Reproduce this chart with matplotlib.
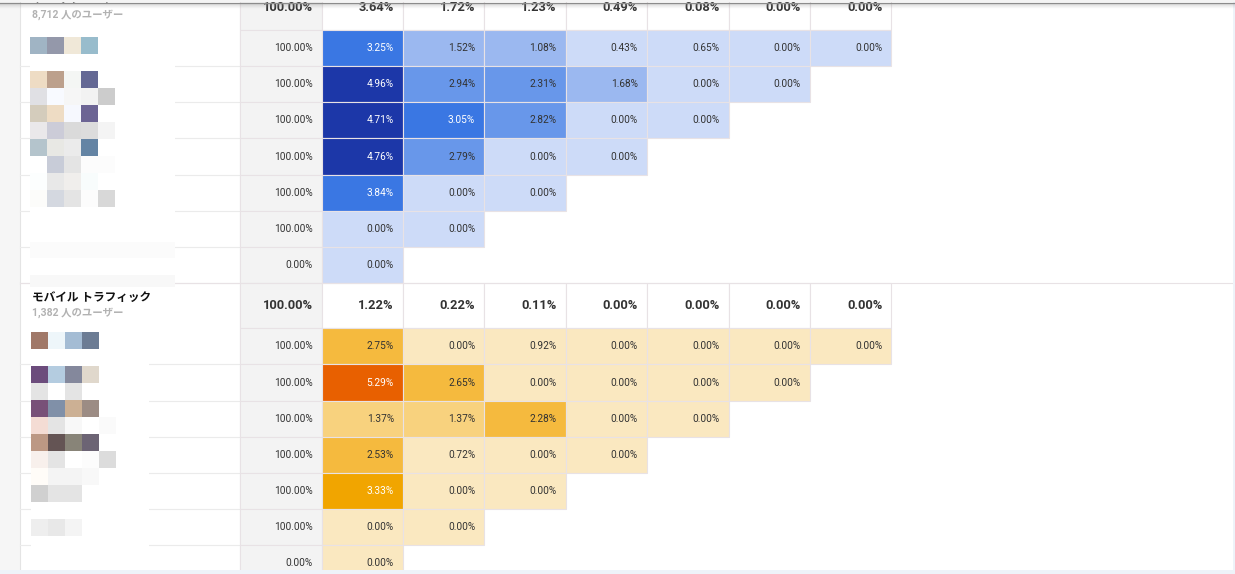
import numpy as np
import matplotlib
matplotlib.use('Agg')
import matplotlib.pyplot as plt
from matplotlib.colors import ListedColormap, BoundaryNorm, to_rgb
from matplotlib.patches import Rectangle

plt.rcParams['font.family'] = ['Roboto', 'Noto Sans CJK JP', 'DejaVu Sans']

# --- data ---
all_title = 'すべてのユーザー'
all_users = '8,712 人のユーザー'
all_totals = [100.00, 3.64, 1.72, 1.23, 0.49, 0.08, 0.00, 0.00]
all_rows = [
    [100.00, 3.25, 1.52, 1.08, 0.43, 0.65, 0.00, 0.00],
    [100.00, 4.96, 2.94, 2.31, 1.68, 0.00, 0.00],
    [100.00, 4.71, 3.05, 2.82, 0.00, 0.00],
    [100.00, 4.76, 2.79, 0.00, 0.00],
    [100.00, 3.84, 0.00, 0.00],
    [100.00, 0.00, 0.00],
    [0.00, 0.00],
]

mobile_title = 'モバイル トラフィック'
mobile_users = '1,382 人のユーザー'
mobile_totals = [100.00, 1.22, 0.22, 0.11, 0.00, 0.00, 0.00, 0.00]
mobile_rows = [
    [100.00, 2.75, 0.00, 0.92, 0.00, 0.00, 0.00, 0.00],
    [100.00, 5.29, 2.65, 0.00, 0.00, 0.00, 0.00],
    [100.00, 1.37, 1.37, 2.28, 0.00, 0.00],
    [100.00, 2.53, 0.72, 0.00, 0.00],
    [100.00, 3.33, 0.00, 0.00],
    [100.00, 0.00, 0.00],
    [0.00, 0.00],
]

bin_edges = [0, 1, 2, 3, 4, 1000]
blue_colors = ['#cddbf8', '#9bb8f0', '#6897ea', '#3a77e3', '#1c37a8']
orange_colors = ['#fae8c0', '#f8d27e', '#f5ba3e', '#f1a500', '#e86000']

# pixelated date labels (kept blurred as in the screenshot)
all_mosaic = [
    ['a0b4c4', '9498aa', 'f0e8d8', '98bccc', 'ffffff'],
    ['ffffff', 'ffffff', 'ffffff', 'ffffff', 'ffffff'],
    ['eedcc4', 'bca08c', 'f4f6f4', '646894', 'ffffff'],
    ['e0e0e4', 'f8faff', 'f6f6f6', 'f2f2f2', 'cccccc'],
    ['d4ccbc', 'eedcc4', 'f6f8fe', '6c6494', 'ffffff'],
    ['eae8ea', 'ccccd8', 'dadada', 'dcdcdc', 'f4f4f4'],
    ['b4c4cc', 'e8e8e4', 'ebebeb', '6484a4', 'ffffff'],
    ['ffffff', 'c8ccd8', 'e4e4e4', 'fcfcfc', 'fcfcfc'],
    ['fcfefe', 'e8e8e8', 'f0eeec', 'f8fcfc', 'ffffff'],
    ['fcfcfa', 'd4d8e0', 'e4e4e4', 'fcfcfc', 'd8d8d8'],
]
mobile_mosaic = [
    ['a07868', 'eef6fa', 'a4bcd4', '6c7c94', 'ffffff'],
    ['ffffff', 'ffffff', 'ffffff', 'ffffff', 'ffffff'],
    ['6c4c7c', 'b4cce0', '84889c', 'e0d8cc', 'ffffff'],
    ['e4e4e4', 'ffffff', 'e4e4e4', 'ffffff', 'ffffff'],
    ['785078', '8090a8', 'ccb094', '9c8c84', 'ffffff'],
    ['f4dcd4', 'e4e4e4', 'f8f8f8', 'ffffff', 'fafafa'],
    ['bc9884', '645454', '888478', '6c6474', 'ffffff'],
    ['f8f0ec', 'e4e4e4', 'ffffff', 'fcfcfc', 'dcdcdc'],
    ['fffcf8', 'f4f4f4', 'f4f4f4', 'f8f8f8', 'ffffff'],
    ['d0d0d0', 'e4e4e4', 'e4e4e4', 'ffffff', 'ffffff'],
    ['ffffff', 'ffffff', 'ffffff', 'ffffff', 'ffffff'],
    ['eeeeee', 'e8e8e8', 'f4f4f4', 'ffffff', 'ffffff'],
]

# --- layout (pixels) ---
W, H = 1235, 574
LABEL_X0 = 20
DAY0_X0 = 239.5
COL1_X0 = 321.5
COL_W = 81.4
HEAD_H = 45.3
ROW_H = 36.15
BORDER = '#e8e2e5'
GREY_CELL = '#f3f3f3'
TEXT = '#333333'
PAD = 9


def col_x(j):
    if j == 0:
        return DAY0_X0, COL1_X0 - DAY0_X0
    return COL1_X0 + (j - 1) * COL_W, COL_W


def draw_mosaic(ax, rows, x0, y0, box, block=17):
    ax.add_patch(Rectangle((box[0], box[1]), box[2] - box[0], box[3] - box[1],
                           facecolor='white', edgecolor='none', zorder=3))
    img = np.array([[to_rgb('#' + c) for c in r] for r in rows])
    ax.imshow(img, extent=(x0, x0 + block * len(rows[0]), y0 + block * len(rows), y0),
              interpolation='nearest', aspect='auto', zorder=4)


def draw_group(ax, top, title, users, totals, rows, cmap, norm):
    # label column
    ax.text(32, top + 14.5, title, fontsize=8.4, fontweight='bold', color='#111111',
            ha='left', va='center', zorder=6)
    ax.text(32, top + 29.5, users, fontsize=7.5, fontweight='bold', color='#b2b2b2',
            ha='left', va='center', zorder=6)

    # header row
    for j, v in enumerate(totals):
        x, w = col_x(j)
        face = GREY_CELL if j == 0 else 'white'
        ax.add_patch(Rectangle((x, top), w, HEAD_H, facecolor=face, edgecolor=BORDER,
                               linewidth=0.8, zorder=1))
        ax.text(x + w - PAD, top + HEAD_H / 2, f'{v:.2f}%', fontsize=9.3, fontweight='bold',
                color=TEXT, ha='right', va='center', zorder=2)

    # body rows
    y = top + HEAD_H
    for row in rows:
        ax.plot([LABEL_X0, DAY0_X0], [y + ROW_H, y + ROW_H], color='#ebebeb', lw=0.8, zorder=1)
        for j, v in enumerate(row):
            x, w = col_x(j)
            if j == 0:
                face, tc = GREY_CELL, TEXT
            else:
                level = norm(v)
                face = cmap(level)
                tc = 'white' if level >= 3 else TEXT
            ax.add_patch(Rectangle((x, y), w, ROW_H, facecolor=face, edgecolor=BORDER,
                                   linewidth=0.8, zorder=1))
            ax.text(x + w - PAD, y + ROW_H / 2, f'{v:.2f}%', fontsize=7.3,
                    color=tc, ha='right', va='center', zorder=2)
        y += ROW_H


fig = plt.figure(figsize=(W / 100, H / 100), dpi=100)
ax = fig.add_axes([0, 0, 1, 1])
fig.patch.set_facecolor('white')

# page background / frame
ax.add_patch(Rectangle((0, 0), LABEL_X0, H, facecolor='#f6f6f6', edgecolor='none', zorder=0))
ax.plot([LABEL_X0, LABEL_X0], [0, H], color='#e4e4e4', lw=0.8, zorder=1)
ax.plot([DAY0_X0, DAY0_X0], [0, H], color=BORDER, lw=0.8, zorder=1)

blue_cmap = ListedColormap(blue_colors)
orange_cmap = ListedColormap(orange_colors)
norm = BoundaryNorm(bin_edges, len(blue_colors))

top1 = -15.3
top2 = top1 + HEAD_H + ROW_H * len(all_rows)
draw_group(ax, top1, all_title, all_users, all_totals, all_rows, blue_cmap, norm)
draw_group(ax, top2, mobile_title, mobile_users, mobile_totals, mobile_rows, orange_cmap, norm)
ax.plot([LABEL_X0, W], [top2, top2], color=BORDER, lw=0.8, zorder=1)

# blurred date labels
draw_mosaic(ax, all_mosaic, 30, 37, (30, 37, 175, 287))
ax.add_patch(Rectangle((30, 241.5), 145, 16, facecolor='#fbfbfb', edgecolor='none', zorder=4))
ax.add_patch(Rectangle((30, 275), 145, 12, facecolor='#f8f8f8', edgecolor='none', zorder=4))
draw_mosaic(ax, mobile_mosaic, 31, 332, (31, 331, 149, 570))

# top bar with shadow, right and bottom strips
ax.add_patch(Rectangle((0, 0), W, 2.2, facecolor='#f4f4f4', edgecolor='none', zorder=8))
ax.plot([0, W], [2.5, 2.5], color='#8c8c8c', lw=0.9, zorder=9)
shadow = np.zeros((8, 1, 4))
shadow[..., :3] = 0.55
shadow[:, 0, 3] = np.linspace(0.35, 0.0, 8)
ax.imshow(shadow, extent=(0, W, 9, 3), aspect='auto', interpolation='bilinear', zorder=8)
ax.add_patch(Rectangle((1232.5, 0), 3, H, facecolor='#eef3f9', edgecolor='none', zorder=7))
ax.add_patch(Rectangle((0, 570), W, 4, facecolor='#eef3f9', edgecolor='none', zorder=7))

ax.set_xlim(0, W)
ax.set_ylim(H, 0)
ax.axis('off')

fig.savefig('out.png', dpi=100, facecolor='white')
